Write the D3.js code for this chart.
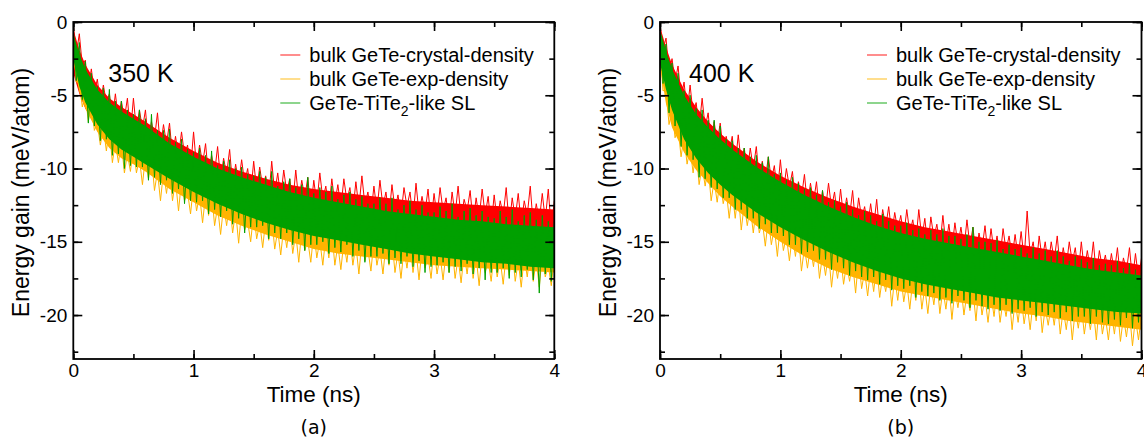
<!DOCTYPE html>
<html>
<head>
<meta charset="utf-8">
<script src="https://cdn.jsdelivr.net/npm/d3@7"></script>
<style>
body { margin: 0; background: #fff; }
svg text { font-family: "Liberation Sans", Arial, sans-serif; fill: #000; }
</style>
</head>
<body>
<svg id="chart" width="1144" height="437"></svg>
<script>
// times (ns) where the solid core of each band was read
const tBand = [0, 0.05, 0.1, 0.2, 0.3, 0.4, 0.5, 0.6, 0.8, 1.0, 1.2, 1.4, 1.6, 1.8, 2.0, 2.2, 2.4, 2.6, 2.8, 3.0, 3.2, 3.4, 3.6, 3.8, 4.0];
// spiky trace samples, one every 0.025 ns
const zigStep = 0.025;

// ---- panel (a), 350 K ----
const aRedHi = [-0.5,-1.9,-2.9,-4.3,-5.2,-5.8,-6.3,-6.8,-7.9,-8.8,-9.6,-10.2,-10.7,-11.1,-11.4,-11.6,-11.8,-12.0,-12.2,-12.3,-12.4,-12.5,-12.6,-12.7,-12.8];
const aRedLo = [-3.5,-4.9,-5.9,-7.3,-8.2,-8.8,-9.3,-9.8,-10.9,-11.8,-12.6,-13.2,-13.7,-14.1,-14.4,-14.6,-14.8,-15.0,-15.2,-15.3,-15.4,-15.5,-15.6,-15.7,-15.8];
const aOrgHi = [-1.6,-3.0,-4.0,-5.4,-6.3,-6.9,-7.4,-7.9,-9.0,-10.0,-10.8,-11.4,-11.9,-12.4,-12.8,-13.1,-13.4,-13.7,-13.9,-14.1,-14.3,-14.4,-14.6,-14.7,-14.8];
const aOrgLo = [-2.7,-4.8,-5.9,-7.5,-8.6,-9.3,-9.7,-10.2,-11.4,-12.3,-13.2,-13.9,-14.5,-15.0,-15.5,-15.8,-16.0,-16.2,-16.4,-16.6,-16.7,-16.8,-16.9,-17.0,-17.1];
const aGrnHi = [-0.8,-2.2,-3.2,-4.6,-5.5,-6.1,-6.6,-7.1,-8.3,-9.2,-10.0,-10.6,-11.1,-11.6,-12.0,-12.3,-12.6,-12.9,-13.1,-13.3,-13.5,-13.6,-13.8,-13.9,-14.0];
const aGrnLo = [-2.5,-4.4,-5.5,-7.0,-8.0,-8.7,-9.2,-9.7,-10.7,-11.6,-12.4,-13.1,-13.7,-14.2,-14.6,-14.9,-15.2,-15.5,-15.8,-16.0,-16.2,-16.4,-16.5,-16.7,-16.8];

const aRedZig = [
  -0.2,-2.2,-0.8,-3.0,-2.6,-4.6,-3.2,-4.8,-3.9,-5.6,
  -4.3,-5.5,-4.9,-6.6,-4.9,-6.6,-5.4,-6.6,-5.2,-7.6,
  -5.2,-7.4,-6.0,-7.3,-6.0,-8.3,-6.8,-8.0,-6.2,-8.6,
  -7.0,-8.3,-6.9,-9.2,-7.8,-9.2,-7.5,-9.1,-8.4,-10.1,
  -7.5,-9.9,-8.4,-9.7,-8.3,-10.6,-9.1,-10.3,-8.5,-10.8,
  -9.3,-10.4,-8.7,-11.2,-9.7,-11.0,-9.4,-11.0,-10.0,-11.8,
  -9.5,-11.5,-9.9,-11.3,-10.5,-12.1,-9.5,-11.7,-10.3,-12.0,
  -10.1,-11.6,-10.7,-12.4,-10.1,-12.2,-10.8,-12.0,-10.6,-12.8,
  -10.8,-12.4,-10.3,-12.1,-11.2,-12.8,-10.7,-12.4,-11.1,-12.7,
  -10.7,-12.2,-11.3,-12.9,-10.9,-12.7,-10.5,-12.5,-11.6,-13.2,
  -11.2,-12.9,-10.8,-12.6,-11.6,-13.3,-11.1,-12.8,-11.8,-13.2,
  -11.3,-12.6,-11.6,-13.4,-11.0,-13.1,-11.9,-13.0,-11.4,-13.7,
  -11.7,-13.3,-11.3,-12.9,-12.0,-13.7,-11.6,-13.2,-11.2,-13.5,
  -12.1,-12.9,-11.5,-13.7,-12.0,-13.4,-11.4,-13.2,-11.9,-14.0,
  -11.8,-13.6,-12.2,-13.2,-11.3,-13.9,-12.0,-13.4,-11.7,-13.8,
  -12.2,-13.2,-11.2,-13.9,-12.4,-13.6,-11.7,-13.5,-11.4,-14.2,
  -12.2];
const aOrgZig = [
  -1.5,-4.1,-4.1,-5.8,-4.9,-6.8,-5.3,-7.4,-6.9,-8.4,
  -7.2,-8.8,-7.3,-9.6,-8.2,-9.6,-8.2,-10.3,-9.0,-10.2,
  -8.5,-10.3,-9.3,-11.1,-9.2,-10.7,-9.1,-11.5,-10.2,-12.2,
  -10.2,-11.7,-10.1,-12.2,-10.8,-12.9,-10.8,-12.2,-11.6,-13.1,
  -11.1,-12.9,-11.8,-13.7,-11.8,-13.2,-11.6,-13.9,-12.6,-14.5,
  -12.5,-13.9,-12.3,-14.4,-12.9,-15.1,-12.8,-14.2,-13.6,-15.0,
  -13.0,-14.8,-13.7,-15.4,-13.5,-14.9,-13.3,-15.5,-14.2,-15.9,
  -14.0,-15.4,-13.7,-15.8,-14.4,-16.4,-14.2,-15.6,-14.9,-16.4,
  -14.3,-16.1,-14.9,-16.6,-14.6,-16.1,-14.3,-16.6,-15.2,-16.9,
  -15.0,-16.4,-14.6,-16.6,-15.2,-17.2,-14.9,-16.3,-15.5,-17.0,
  -14.9,-16.6,-15.5,-17.2,-15.2,-16.6,-14.8,-17.1,-15.7,-17.5,
  -15.5,-16.8,-15.1,-17.1,-15.6,-17.6,-15.4,-16.8,-16.0,-17.5,
  -15.4,-17.2,-15.9,-17.6,-15.7,-17.1,-15.3,-17.5,-16.1,-17.8,
  -15.8,-17.2,-15.5,-17.5,-16.0,-18.0,-15.7,-17.1,-16.3,-17.7,
  -15.7,-17.4,-16.2,-17.9,-15.9,-17.3,-15.5,-17.7,-16.3,-18.1,
  -16.0,-17.4,-15.7,-17.7,-16.2,-18.1,-15.9,-17.4,-16.6,-18.0,
  -16.0];
const aGrnZig = [
  -0.5,-4.0,-1.4,-5.3,-2.7,-6.9,-3.5,-7.1,-4.4,-8.1,
  -4.5,-8.0,-4.6,-9.1,-5.4,-9.0,-5.4,-10.0,-6.0,-9.8,
  -6.3,-9.9,-6.0,-9.9,-6.6,-10.8,-6.3,-10.6,-7.4,-11.1,
  -7.4,-10.8,-7.3,-11.7,-8.2,-11.4,-8.0,-12.4,-8.7,-12.2,
  -8.9,-12.3,-8.6,-12.2,-9.1,-13.1,-8.8,-12.8,-9.8,-13.3,
  -9.5,-12.9,-9.4,-13.8,-10.0,-13.4,-9.9,-14.4,-10.4,-14.0,
  -10.5,-14.0,-10.2,-13.9,-10.6,-14.8,-10.2,-14.4,-11.2,-14.8,
  -10.9,-14.4,-10.7,-15.2,-11.3,-14.8,-11.1,-15.6,-10.6,-15.2,
  -11.7,-15.2,-11.3,-15.0,-11.6,-15.8,-11.2,-15.4,-12.1,-15.7,
  -11.8,-15.2,-11.6,-16.0,-12.1,-15.6,-11.9,-16.4,-12.4,-16.0,
  -12.4,-16.0,-12.0,-15.8,-12.4,-16.5,-12.0,-16.1,-12.8,-16.5,
  -12.5,-16.0,-12.2,-16.7,-12.8,-16.3,-12.5,-17.1,-13.0,-16.7,
  -13.0,-16.6,-12.6,-16.4,-12.9,-17.1,-12.4,-16.7,-13.3,-17.0,
  -12.9,-16.5,-12.7,-17.2,-13.2,-16.8,-12.9,-17.6,-13.3,-17.1,
  -13.4,-17.1,-12.9,-16.8,-13.3,-17.5,-12.8,-17.1,-13.6,-17.4,
  -13.2,-16.9,-13.0,-17.6,-13.5,-18.5,-13.2,-17.2,-13.6,-17.7,
  -13.6];

// ---- panel (b), 400 K ----
const bRedHi = [-0.3,-1.7,-2.9,-4.6,-5.8,-6.8,-7.6,-8.3,-9.5,-10.5,-11.3,-12.0,-12.6,-13.1,-13.6,-14.0,-14.3,-14.6,-14.9,-15.2,-15.5,-15.8,-16.1,-16.3,-16.6];
const bRedLo = [-2.6,-4.3,-5.7,-7.6,-8.8,-9.8,-10.6,-11.3,-12.5,-13.5,-14.3,-15.0,-15.6,-16.1,-16.6,-17.0,-17.3,-17.6,-17.9,-18.2,-18.5,-18.8,-19.1,-19.3,-19.6];
const bOrgHi = [-0.8,-2.6,-3.9,-5.8,-7.1,-8.0,-8.8,-9.5,-10.7,-11.7,-12.6,-13.4,-14.1,-14.7,-15.2,-15.6,-15.9,-16.2,-16.5,-16.8,-17.1,-17.4,-17.7,-17.9,-18.1];
const bOrgLo = [-3.0,-5.6,-7.2,-8.9,-10.1,-11.0,-11.9,-12.6,-13.9,-15.0,-16.0,-16.8,-17.4,-17.9,-18.4,-18.7,-19.0,-19.3,-19.6,-19.9,-20.1,-20.4,-20.6,-20.8,-21.0];
const bGrnHi = [-0.5,-2.0,-3.2,-5.0,-6.3,-7.2,-8.0,-8.7,-9.9,-10.9,-11.8,-12.6,-13.3,-13.9,-14.4,-14.8,-15.1,-15.4,-15.7,-16.0,-16.3,-16.6,-16.9,-17.1,-17.3];
const bGrnLo = [-2.8,-4.6,-6.0,-8.0,-9.3,-10.3,-11.1,-11.8,-13.0,-14.0,-14.9,-15.7,-16.4,-17.0,-17.5,-17.9,-18.2,-18.5,-18.8,-19.0,-19.2,-19.4,-19.6,-19.8,-19.9];

const bRedZig = [
  -0.1,-1.9,-1.1,-3.5,-2.5,-4.1,-3.0,-5.2,-4.1,-6.2,
  -4.3,-6.3,-5.5,-7.2,-5.2,-7.2,-6.2,-8.4,-6.8,-8.3,
  -6.9,-8.8,-7.8,-8.9,-7.8,-9.8,-7.7,-9.6,-8.6,-10.2,
  -8.6,-10.0,-8.5,-10.8,-9.5,-10.8,-9.2,-10.8,-9.8,-11.7,
  -9.4,-11.6,-10.0,-11.3,-10.2,-12.2,-10.9,-12.0,-10.4,-12.5,
  -11.0,-12.3,-10.9,-13.1,-11.5,-12.8,-11.0,-12.7,-11.6,-13.4,
  -11.4,-13.4,-12.0,-13.3,-11.5,-13.9,-12.0,-13.4,-12.6,-14.0,
  -12.4,-14.0,-12.1,-14.5,-12.8,-14.0,-12.6,-14.5,-13.0,-14.2,
  -13.2,-14.6,-12.8,-14.4,-13.5,-15.0,-12.8,-14.8,-13.4,-15.4,
  -13.3,-14.7,-13.8,-15.3,-13.2,-15.2,-13.8,-15.5,-13.7,-15.2,
  -14.0,-15.5,-13.5,-15.3,-14.0,-16.0,-14.4,-15.5,-13.9,-15.9,
  -14.1,-15.7,-14.6,-16.1,-14.1,-15.6,-14.6,-16.1,-14.5,-16.1,
  -14.3,-16.2,-12.9,-15.9,-15.0,-16.7,-14.6,-16.2,-15.0,-16.6,
  -15.0,-16.3,-14.6,-16.9,-15.4,-16.7,-15.0,-16.4,-15.4,-17.2,
  -15.0,-17.0,-15.6,-16.9,-15.0,-17.3,-15.6,-16.8,-15.9,-17.3,
  -15.8,-17.1,-15.4,-17.5,-16.1,-17.0,-15.4,-17.6,-15.8,-17.5,
  -16.1];
const bOrgZig = [
  -1.7,-4.7,-4.6,-7.0,-6.0,-7.9,-7.2,-9.2,-7.8,-9.7,
  -8.6,-10.3,-8.8,-11.1,-9.8,-11.2,-9.9,-12.2,-10.8,-12.3,
  -10.7,-12.4,-11.5,-13.4,-11.6,-13.4,-11.6,-14.2,-12.4,-13.9,
  -12.6,-14.4,-12.6,-14.4,-13.6,-15.3,-13.4,-15.2,-14.0,-16.0,
  -13.8,-15.6,-14.6,-16.3,-14.5,-16.0,-14.4,-17.0,-15.4,-16.8,
  -15.3,-16.7,-15.1,-17.5,-15.9,-17.3,-15.7,-18.1,-16.2,-17.5,
  -15.9,-17.9,-16.5,-17.7,-16.4,-18.5,-16.1,-18.2,-17.0,-18.7,
  -16.8,-18.4,-16.6,-18.8,-17.3,-18.4,-17.0,-19.4,-17.4,-19.0,
  -17.2,-19.1,-17.8,-19.6,-17.6,-19.0,-17.2,-19.6,-18.1,-19.9,
  -17.9,-19.3,-17.6,-19.9,-18.2,-19.6,-17.9,-20.3,-18.3,-19.5,
  -18.0,-20.0,-18.5,-19.7,-18.3,-20.4,-18.0,-20.0,-18.8,-20.5,
  -18.6,-20.1,-18.3,-20.5,-19.0,-20.1,-18.6,-21.0,-19.0,-20.5,
  -18.7,-20.6,-19.2,-21.0,-19.0,-20.4,-18.6,-21.2,-19.5,-20.7,
  -19.3,-20.7,-19.0,-21.3,-19.6,-21.0,-19.3,-21.7,-19.6,-20.9,
  -19.3,-21.3,-19.8,-21.0,-19.6,-21.7,-19.2,-21.3,-20.1,-21.7,
  -19.8,-21.3,-19.5,-21.8,-20.1,-21.5,-19.8,-22.1,-20.2,-21.7,
  -20.0];
const bGrnZig = [
  -0.2,-4.2,-1.5,-6.2,-2.8,-7.1,-3.5,-8.5,-4.7,-9.1,
  -5.0,-9.4,-5.9,-10.6,-6.0,-10.7,-6.7,-11.3,-6.7,-11.4,
  -7.1,-12.0,-8.0,-12.0,-8.1,-12.8,-8.6,-12.8,-8.6,-13.4,
  -9.2,-13.4,-9.1,-14.1,-9.6,-13.8,-9.2,-14.4,-10.4,-14.4,
  -10.3,-14.6,-10.8,-15.2,-10.6,-15.2,-11.0,-15.8,-11.4,-15.7,
  -11.3,-15.6,-11.8,-16.2,-11.5,-16.2,-12.3,-16.9,-12.2,-16.4,
  -12.6,-16.8,-12.3,-17.3,-12.8,-17.0,-13.2,-17.4,-12.9,-17.6,
  -13.2,-17.4,-13.6,-17.9,-13.1,-17.6,-13.6,-18.3,-13.9,-18.0,
  -13.9,-18.2,-13.7,-18.0,-14.2,-18.8,-14.1,-18.4,-14.5,-18.7,
  -14.2,-18.5,-14.5,-19.0,-14.1,-18.8,-14.6,-19.2,-14.6,-18.7,
  -14.8,-19.0,-14.5,-19.5,-14.0,-19.0,-15.0,-19.4,-15.0,-19.6,
  -15.1,-19.3,-14.9,-19.7,-15.5,-19.3,-15.2,-19.9,-15.5,-19.6,
  -15.4,-19.7,-15.8,-19.5,-15.4,-20.1,-15.8,-19.8,-15.6,-20.0,
  -16.0,-19.8,-15.6,-20.2,-16.0,-19.8,-16.3,-20.4,-16.0,-20.1,
  -16.2,-20.1,-16.4,-20.6,-16.1,-20.1,-16.6,-20.5,-16.5,-20.6,
  -16.6,-20.3,-16.3,-20.7,-16.8,-20.2,-16.5,-20.9,-16.9,-20.5,
  -16.9];

const seriesNames = ["bulk GeTe-crystal-density", "bulk GeTe-exp-density", "GeTe-TiTe"];
const seriesColors = ["#ff0000", "#ffb400", "#00a000"];
const xTicks = [0, 1, 2, 3, 4];
const yTicks = [0, -5, -10, -15, -20];

const panels = [
    { key: "a", left: 73.3, right: 554.3, temp: "350 K", tempX: 35, caption: "(a)",
      series: [
        { hi: aRedHi, lo: aRedLo, zig: aRedZig },
        { hi: aOrgHi, lo: aOrgLo, zig: aOrgZig },
        { hi: aGrnHi, lo: aGrnLo, zig: aGrnZig } ] },
    { key: "b", left: 660, right: 1141.5, temp: "400 K", tempX: 29, caption: "(b)",
      series: [
        { hi: bRedHi, lo: bRedLo, zig: bRedZig },
        { hi: bOrgHi, lo: bOrgLo, zig: bOrgZig },
        { hi: bGrnHi, lo: bGrnLo, zig: bGrnZig } ] }
];

const plotTop = 22, plotBottom = 359;
const svg = d3.select("#chart");

function drawPanel(p) {
    const x = d3.scaleLinear().domain([0, 4]).range([p.left, p.right]);
    const y = d3.scaleLinear().domain([-23, 0]).range([plotBottom, plotTop]);
    const g = svg.append("g");

    g.append("clipPath").attr("id", "clip-" + p.key)
        .append("rect")
        .attr("x", p.left).attr("y", plotTop)
        .attr("width", p.right - p.left).attr("height", plotBottom - plotTop);

    const plot = g.append("g").attr("clip-path", `url(#clip-${p.key})`);

    const band = d3.area()
        .x((d, i) => x(tBand[i]))
        .y0(d => y(d[1]))
        .y1(d => y(d[0]));
    const zigLine = d3.line()
        .x((d, i) => x(i * zigStep))
        .y(d => y(d));

    p.series.forEach((s, k) => {
        plot.append("path")
            .datum(s.hi.map((v, i) => [v, s.lo[i]]))
            .attr("d", band)
            .attr("fill", seriesColors[k]);
        plot.append("path")
            .datum(s.zig)
            .attr("d", zigLine)
            .attr("fill", "none")
            .attr("stroke", seriesColors[k])
            .attr("stroke-width", 1);
    });

    // ticks on all four sides, pointing inward
    const halfX = d3.range(0, 4.01, 0.5);
    const halfY = d3.range(-22.5, 0.1, 2.5);

    g.append("g").attr("transform", `translate(0,${plotBottom})`)
        .call(d3.axisBottom(x).tickValues(halfX).tickSize(-5).tickFormat(""));
    g.append("g").attr("transform", `translate(0,${plotBottom})`)
        .call(d3.axisBottom(x).tickValues(xTicks).tickSize(-9).tickPadding(5).tickFormat(d => d));
    g.append("g").attr("transform", `translate(0,${plotTop})`)
        .call(d3.axisTop(x).tickValues(halfX).tickSize(-5).tickFormat(""));
    g.append("g").attr("transform", `translate(0,${plotTop})`)
        .call(d3.axisTop(x).tickValues(xTicks).tickSize(-9).tickFormat(""));
    g.append("g").attr("transform", `translate(${p.left},0)`)
        .call(d3.axisLeft(y).tickValues(halfY).tickSize(-5).tickFormat(""));
    g.append("g").attr("transform", `translate(${p.left},0)`)
        .call(d3.axisLeft(y).tickValues(yTicks).tickSize(-9).tickPadding(6).tickFormat(d => String(d)));
    g.append("g").attr("transform", `translate(${p.right},0)`)
        .call(d3.axisRight(y).tickValues(halfY).tickSize(-5).tickFormat(""));
    g.append("g").attr("transform", `translate(${p.right},0)`)
        .call(d3.axisRight(y).tickValues(yTicks).tickSize(-9).tickFormat(""));

    g.selectAll(".domain").remove();
    g.selectAll(".tick line").attr("stroke", "#000").attr("stroke-width", 1.6);
    g.selectAll(".tick text").style("font-size", "19px").attr("fill", "#000");

    g.append("rect")
        .attr("x", p.left).attr("y", plotTop)
        .attr("width", p.right - p.left).attr("height", plotBottom - plotTop)
        .attr("fill", "none").attr("stroke", "#000").attr("stroke-width", 1.8);

    // axis titles and caption
    const mid = (p.left + p.right) / 2;
    g.append("text").attr("x", mid).attr("y", 402)
        .attr("text-anchor", "middle").style("font-size", "22.5px").text("Time (ns)");
    g.append("text")
        .attr("transform", `translate(${p.left - 44},${(plotTop + plotBottom) / 2 + 2}) rotate(-90)`)
        .attr("text-anchor", "middle").style("font-size", "23px")
        .text("Energy gain (meV/atom)");
    g.append("text").attr("x", mid).attr("y", 434)
        .attr("text-anchor", "middle")
        .style("font-family", "'DejaVu Sans', sans-serif").style("font-size", "19px")
        .text(p.caption);

    g.append("text").attr("x", p.left + p.tempX).attr("y", 82)
        .style("font-size", "25px").text(p.temp);

    // legend
    const lg = g.append("g").attr("transform", `translate(${p.left + 207},0)`);
    seriesNames.forEach((name, k) => {
        const base = 62 + k * 24;
        lg.append("line")
            .attr("x1", 0).attr("x2", 20)
            .attr("y1", base - 7).attr("y2", base - 7)
            .attr("stroke", seriesColors[k]).attr("stroke-width", 1.5)
            .attr("stroke-opacity", 0.6);
        const t = lg.append("text").attr("x", 29).attr("y", base).style("font-size", "20px");
        t.append("tspan").text(name);
        if (k === 2) {
            t.append("tspan").attr("dy", 6).style("font-size", "14px").text("2");
            t.append("tspan").attr("dy", -6).text("-like SL");
        }
    });
}

panels.forEach(drawPanel);
</script>
</body>
</html>
